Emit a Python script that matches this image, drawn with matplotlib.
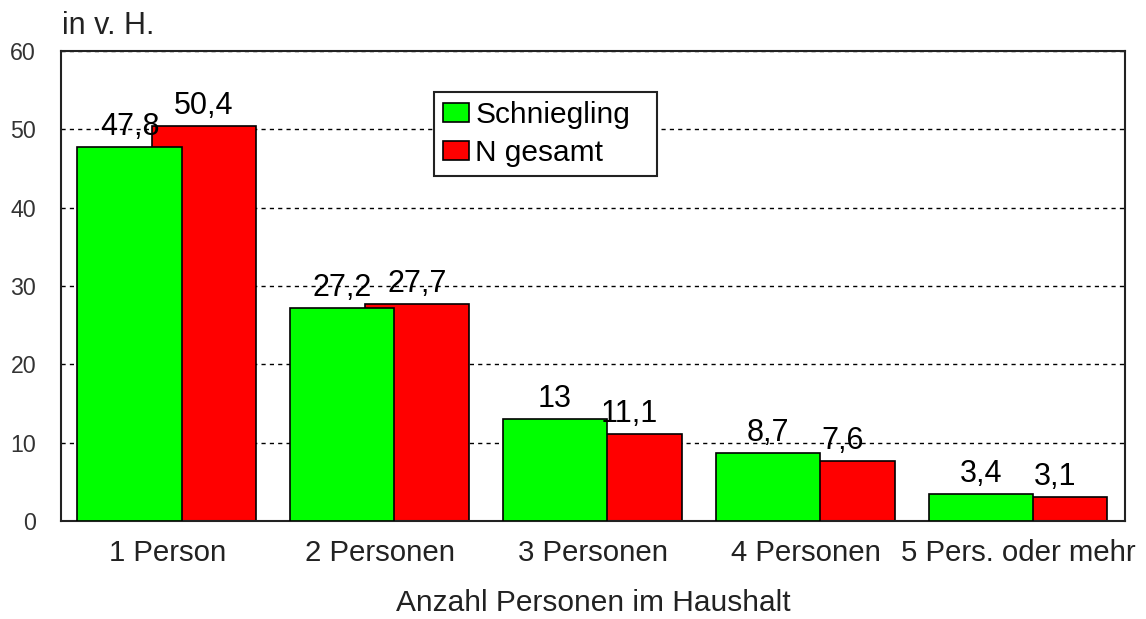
import numpy as np
from matplotlib import pyplot as plt

plt.rcParams['font.family'] = ['Liberation Sans', 'DejaVu Sans']

## Data
categories = ['1 Person', '2 Personen', '3 Personen', '4 Personen', '5 Pers. oder mehr']
schniegling = [47.8, 27.2, 13, 8.7, 3.4]
n_gesamt = [50.4, 27.7, 11.1, 7.6, 3.1]
labels_schniegling = ['47,8', '27,2', '13', '8,7', '3,4']
labels_gesamt = ['50,4', '27,7', '11,1', '7,6', '3,1']

x = np.arange(len(categories))
width = 0.49

## Plot
fig = plt.figure(figsize=(11.46, 6.19), dpi=100)
ax = fig.add_axes([61/1146, 1 - 521/619, 1064/1146, 470/619])

bars_red = ax.bar(x + 0.172, n_gesamt, width, color='#ff0000', edgecolor='black',
                  linewidth=1.2, label='N gesamt', zorder=2)
bars_green = ax.bar(x - 0.178, schniegling, width, color='#00ff00', edgecolor='black',
                    linewidth=1.2, label='Schniegling', zorder=3)

for rect, txt in zip(bars_green, labels_schniegling):
    ax.annotate(txt, (rect.get_x() + rect.get_width() / 2, rect.get_height()),
                xytext=(0, 5), textcoords='offset pixels', ha='center', va='bottom',
                fontsize=22, zorder=5)
for rect, txt in zip(bars_red, labels_gesamt):
    ax.annotate(txt, (rect.get_x() + rect.get_width() / 2, rect.get_height()),
                xytext=(0, 5), textcoords='offset pixels', ha='center', va='bottom',
                fontsize=22, zorder=5)

ax.set_xlim(-0.5, 4.5)
ax.set_ylim(0, 60)
ax.set_yticks(range(0, 61, 10))
ax.set_xticks(x)
ax.set_xticklabels(categories, fontsize=21.2)
ax.tick_params(axis='y', length=0, pad=18, labelsize=16.7, labelcolor='#333333')
ax.tick_params(axis='x', length=0, pad=13, labelcolor='#222222')
ax.yaxis.grid(True, linestyle=(0, (3, 3)), color='black', linewidth=1, zorder=0)
ax.set_axisbelow(True)
for s in ax.spines.values():
    s.set_linewidth(1.5)
    s.set_color('#222222')

ax.set_xlabel('Anzahl Personen im Haushalt', fontsize=21.5, labelpad=16, color='#222222')
fig.text(62/1146, 1 - 26/619, 'in v. H.', fontsize=22, va='center', ha='left', color='#222222')

handles, lbls = ax.get_legend_handles_labels()
leg = ax.legend(handles[::-1], lbls[::-1], loc='upper left',
                bbox_to_anchor=(0.351, 0.5, 0.2096, 0.4127), mode='expand',
                fontsize=21.5, frameon=True, fancybox=False, handlelength=0.85,
                handleheight=0.6, handletextpad=0.22, borderpad=0.3, labelspacing=0.35,
                borderaxespad=0)
leg.get_frame().set_edgecolor('#222222')
leg.get_frame().set_linewidth(1.5)
leg.get_frame().set_alpha(1)

plt.savefig('out.png', dpi=100)
